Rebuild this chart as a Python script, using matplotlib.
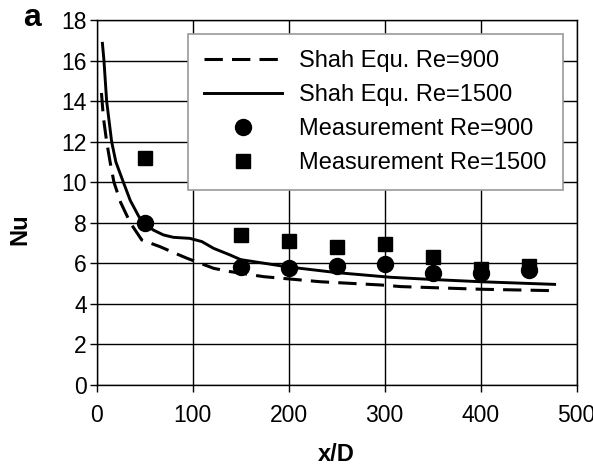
import matplotlib
matplotlib.use("Agg")
import matplotlib.pyplot as plt

plt.rcParams['font.family'] = ['Liberation Sans', 'DejaVu Sans']

# Shah equation curves
shah900_x = [5, 7, 10.4, 14, 18, 25, 35, 47, 66, 82, 94, 108, 122, 139, 174, 233, 296, 317, 400, 475]
shah900_y = [14.4, 13.2, 12.0, 11.0, 10.0, 9.0, 8.0, 7.15, 6.82, 6.49, 6.25, 6.0, 5.75, 5.59, 5.34, 5.09, 4.93, 4.85, 4.72, 4.65]

shah1500_x = [6, 7.6, 10.4, 15.6, 20, 27.8, 35, 44, 50, 59, 69.5, 80, 97, 109.6, 121.7, 139, 150, 198, 250, 306, 350, 400, 477]
shah1500_y = [16.85, 16.0, 14.0, 12.0, 11.0, 10.0, 9.1, 8.3, 7.97, 7.64, 7.4, 7.28, 7.23, 7.07, 6.74, 6.41, 6.18, 5.83, 5.54, 5.31, 5.2, 5.09, 4.96]

# measurements
meas_x = [50, 150, 200, 250, 300, 350, 400, 450]
meas900 = [8.0, 5.83, 5.75, 5.87, 5.95, 5.5, 5.5, 5.65]
meas1500 = [11.2, 7.4, 7.1, 6.82, 6.95, 6.3, 5.7, 5.85]

fig = plt.figure(figsize=(5.93, 4.66), dpi=100)
ax = fig.add_axes([0.163, 0.174, 0.8095, 0.783])

ax.plot(shah900_x, shah900_y, color='black', lw=2.2, dashes=(6, 3),
        label='Shah Equ. Re=900')
ax.plot(shah1500_x, shah1500_y, color='black', lw=2.1, label='Shah Equ. Re=1500')
ax.plot(meas_x, meas900, 'o', color='black', ms=11.5, label='Measurement Re=900')
ax.plot(meas_x, meas1500, 's', color='black', ms=10.5, label='Measurement Re=1500')

ax.set_xlim(0, 500)
ax.set_ylim(0, 18)
ax.set_xticks(range(0, 501, 100))
ax.set_yticks(range(0, 19, 2))
ax.grid(True, color='black', lw=1)
ax.set_axisbelow(True)
for s in ax.spines.values():
    s.set_color('black')
    s.set_linewidth(1)
ax.tick_params(labelsize=16.5, length=5, width=1, colors='black')
ax.tick_params(axis='x', pad=9)
ax.tick_params(axis='y', pad=2)

ax.set_xlabel('x/D', fontsize=17, fontweight='bold')
ax.xaxis.set_label_coords(0.5, -0.16)
ax.set_ylabel('Nu', fontsize=17, fontweight='bold')
ax.yaxis.set_label_coords(-0.135, 0.427)
fig.text(0.054, 0.962, 'a', fontsize=23, fontweight='bold', ha='center', va='center')

leg = ax.legend(loc='upper right', bbox_to_anchor=(0.971, 0.962), fontsize=17,
                frameon=True, fancybox=False, edgecolor='#999999',
                handlelength=3.3, handletextpad=0.7, labelspacing=0.5,
                borderpad=0.7, framealpha=1, borderaxespad=0)
leg.get_frame().set_linewidth(1.2)

fig.savefig('out.png', dpi=100)
